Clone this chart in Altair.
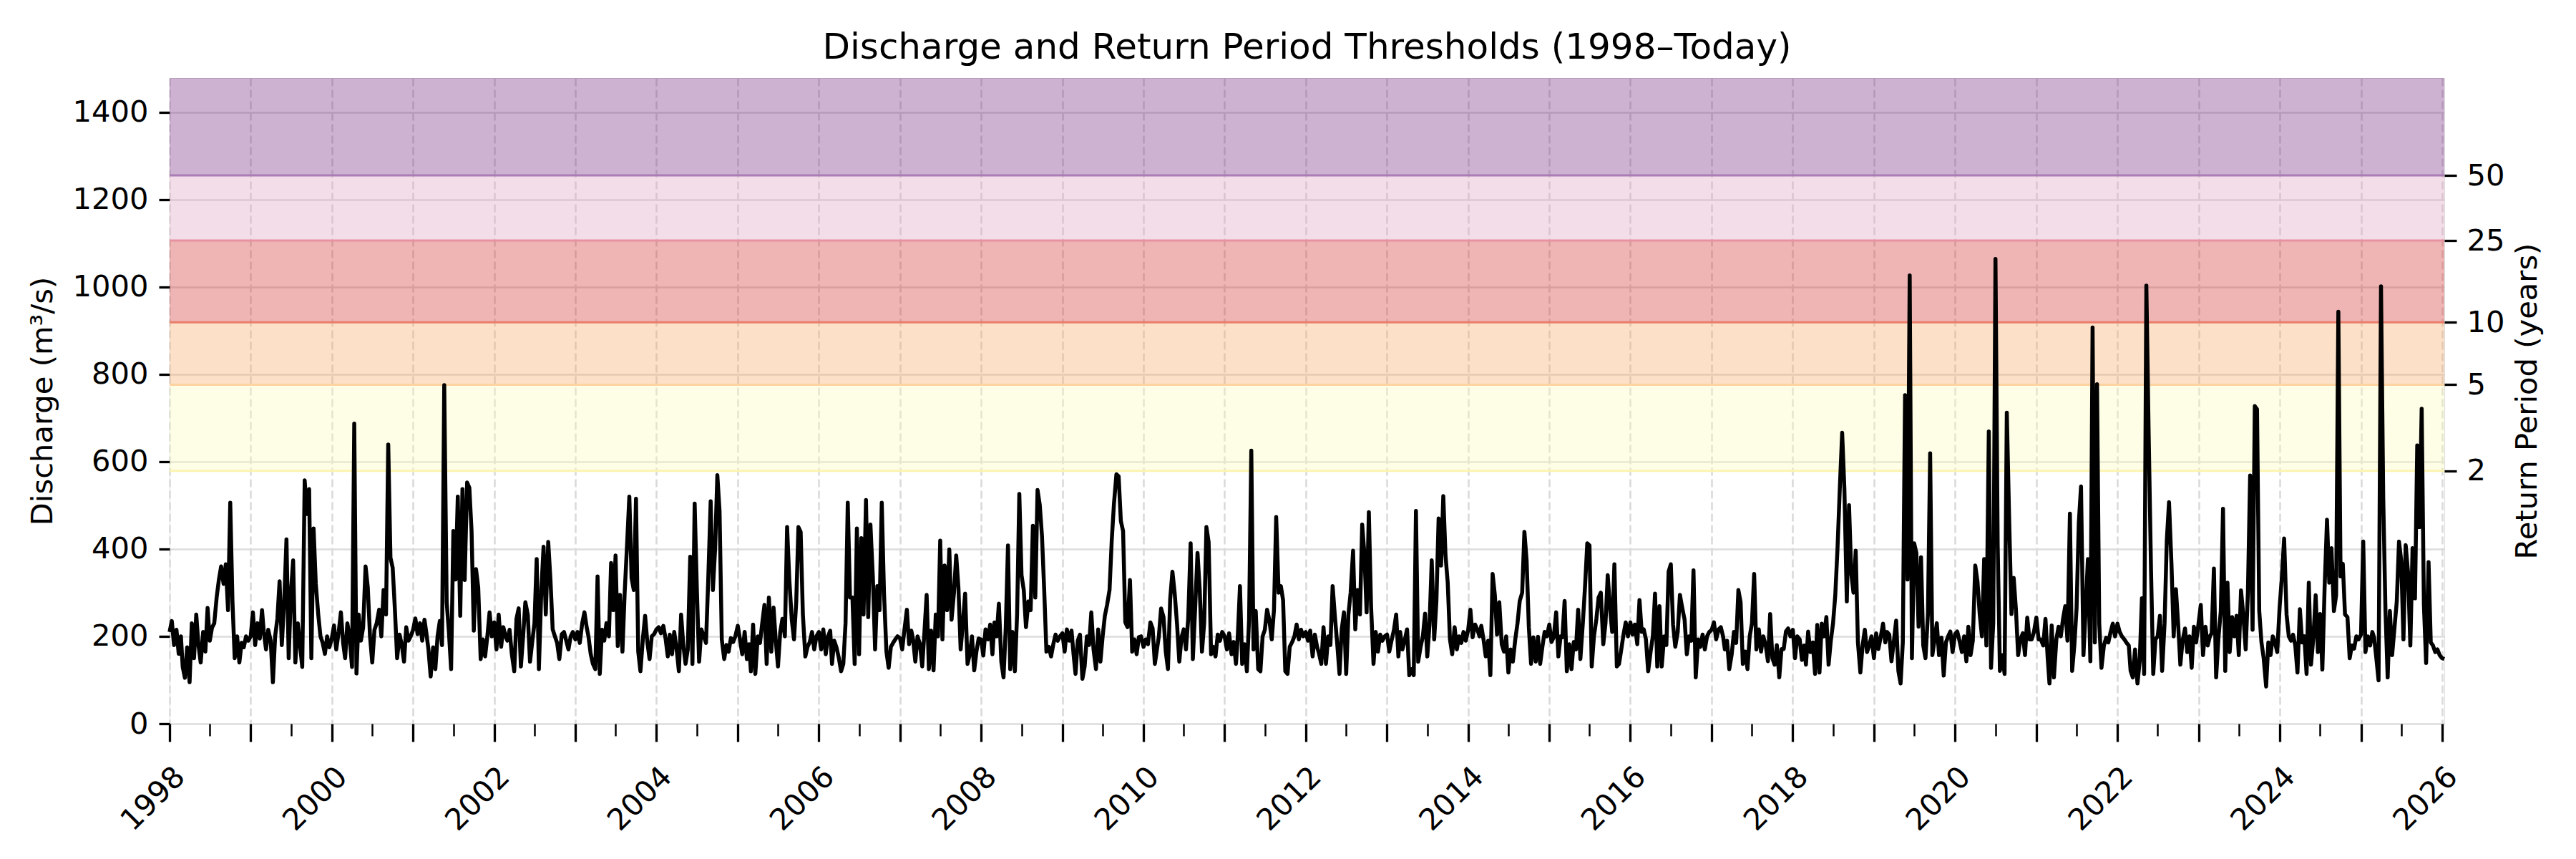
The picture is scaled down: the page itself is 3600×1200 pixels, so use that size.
import altair as alt
import pandas as pd

# return period thresholds (discharge in m3/s) and band styling
rp_years = [2, 5, 10, 25, 50]
rp_discharge = [579, 776, 919, 1106, 1255]
y_top = 1478
band_fill = ["#fcfcb8", "#f6a962", "#d12929", "#dd9ec0", "#70267c"]
edge_color = ["#fbf3b0", "#fdd3a0", "#eb7d69", "#e891a0", "#aa7db4"]

# discharge, one value per dekad (1st, 11th, 21st of each month)
q1998 = [210, 235, 180, 215, 160, 200, 130, 105, 175, 95, 230, 150, 250, 180, 140, 210, 165, 265, 190, 220, 230, 290, 330, 360, 320, 365, 260, 506, 280, 150, 200, 140, 185, 175, 200, 190]
q1999 = [200, 255, 180, 230, 195, 260, 210, 170, 215, 190, 95, 200, 240, 326, 180, 283, 422, 150, 300, 374, 140, 230, 180, 130, 557, 480, 537, 150, 447, 320, 250, 200, 185, 160, 200, 175]
q2000 = [195, 225, 170, 210, 255, 185, 150, 230, 200, 130, 687, 115, 250, 190, 220, 360, 312, 200, 140, 215, 230, 261, 200, 306, 250, 639, 380, 357, 261, 150, 204, 180, 142, 221, 190, 200]
q2001 = [215, 241, 205, 230, 190, 238, 210, 170, 108, 175, 125, 200, 235, 180, 775, 278, 210, 125, 441, 330, 520, 247, 537, 329, 552, 540, 441, 213, 354, 312, 148, 193, 154, 200, 255, 200]
q2002 = [232, 170, 250, 176, 221, 200, 190, 215, 160, 120, 240, 264, 131, 200, 278, 250, 142, 187, 230, 377, 125, 306, 405, 250, 416, 330, 216, 200, 185, 148, 205, 210, 190, 170, 200, 210]
q2003 = [193, 210, 185, 230, 255, 221, 200, 160, 137, 125, 337, 114, 215, 190, 230, 200, 368, 260, 385, 178, 295, 165, 300, 402, 520, 334, 306, 515, 165, 120, 195, 247, 187, 148, 200, 205]
q2004 = [216, 221, 207, 224, 195, 154, 204, 159, 210, 170, 120, 250, 180, 137, 170, 382, 137, 504, 306, 142, 216, 200, 185, 329, 509, 306, 400, 569, 487, 193, 148, 180, 165, 196, 187, 200]
q2005 = [224, 193, 159, 210, 148, 182, 120, 227, 114, 200, 185, 230, 272, 137, 289, 165, 266, 190, 131, 210, 240, 200, 450, 329, 238, 193, 278, 450, 439, 250, 154, 176, 187, 210, 170, 200]
q2006 = [210, 170, 216, 159, 200, 213, 137, 190, 175, 150, 120, 137, 230, 506, 289, 289, 137, 447, 159, 425, 250, 512, 244, 456, 334, 170, 315, 260, 506, 300, 165, 128, 176, 185, 193, 200]
q2007 = [196, 170, 215, 261, 182, 213, 193, 142, 200, 182, 131, 210, 295, 125, 213, 122, 250, 200, 419, 193, 362, 260, 399, 238, 300, 385, 312, 170, 230, 298, 137, 159, 200, 122, 165, 195]
q2008 = [193, 156, 216, 193, 227, 159, 232, 200, 275, 142, 106, 220, 408, 125, 210, 120, 250, 526, 340, 306, 221, 280, 260, 453, 289, 535, 501, 430, 306, 165, 176, 154, 182, 204, 190, 200]
q2009 = [207, 165, 216, 190, 213, 154, 114, 190, 204, 103, 131, 200, 180, 255, 170, 125, 216, 142, 200, 247, 272, 306, 420, 504, 571, 566, 464, 441, 232, 221, 329, 165, 193, 159, 198, 200]
q2010 = [176, 193, 182, 232, 218, 137, 165, 200, 264, 244, 165, 125, 286, 348, 300, 227, 142, 198, 216, 170, 240, 413, 148, 260, 391, 306, 165, 230, 450, 416, 159, 176, 154, 204, 190, 210]
q2011 = [200, 170, 207, 159, 187, 137, 198, 315, 137, 182, 120, 238, 625, 170, 258, 125, 120, 200, 215, 261, 238, 193, 260, 473, 300, 315, 283, 120, 114, 176, 187, 200, 227, 193, 215, 200]
q2012 = [210, 190, 213, 154, 204, 176, 160, 137, 221, 137, 200, 180, 315, 247, 187, 114, 216, 255, 114, 250, 300, 396, 216, 306, 250, 456, 388, 255, 484, 269, 137, 210, 165, 204, 190, 200]
q2013 = [204, 165, 190, 215, 250, 154, 210, 170, 190, 216, 111, 125, 111, 487, 142, 176, 200, 252, 154, 227, 374, 193, 280, 470, 362, 521, 385, 323, 193, 159, 221, 170, 200, 185, 210, 190]
q2014 = [215, 261, 198, 227, 216, 200, 224, 193, 154, 190, 111, 343, 295, 204, 278, 182, 165, 200, 117, 170, 142, 193, 230, 281, 300, 439, 374, 221, 137, 198, 142, 199, 137, 176, 210, 200]
q2015 = [227, 187, 198, 255, 154, 200, 198, 281, 120, 182, 125, 187, 170, 261, 148, 230, 315, 413, 408, 131, 200, 240, 289, 300, 182, 230, 340, 266, 210, 365, 131, 137, 170, 204, 232, 200]
q2016 = [232, 204, 227, 182, 283, 210, 216, 193, 120, 165, 200, 298, 131, 269, 131, 200, 180, 348, 365, 227, 176, 210, 295, 266, 238, 159, 200, 190, 351, 106, 193, 176, 204, 170, 200, 210]
q2017 = [215, 232, 193, 216, 221, 200, 170, 190, 125, 159, 210, 185, 306, 278, 137, 165, 125, 200, 230, 343, 170, 216, 165, 200, 180, 143, 251, 150, 135, 180, 106, 171, 171, 211, 218, 200]
q2018 = [215, 150, 200, 193, 146, 179, 135, 211, 164, 186, 114, 226, 117, 229, 200, 244, 135, 190, 230, 294, 400, 546, 666, 539, 280, 500, 344, 300, 396, 186, 117, 179, 215, 164, 179, 200]
q2019 = [150, 207, 171, 200, 229, 186, 210, 204, 143, 190, 236, 121, 92, 186, 752, 330, 1026, 150, 413, 391, 222, 381, 179, 150, 250, 619, 157, 193, 230, 157, 197, 110, 186, 200, 211, 164]
q2020 = [205, 211, 190, 164, 200, 143, 222, 157, 190, 362, 326, 251, 200, 377, 179, 669, 128, 230, 1064, 409, 121, 157, 114, 712, 460, 251, 334, 262, 157, 193, 207, 157, 243, 193, 193, 210]
q2021 = [243, 193, 193, 179, 240, 150, 92, 225, 106, 193, 222, 200, 240, 269, 190, 481, 121, 180, 265, 460, 543, 157, 265, 377, 143, 907, 186, 777, 229, 128, 179, 197, 186, 210, 229, 200]
q2022 = [229, 210, 200, 193, 185, 179, 121, 106, 170, 92, 143, 287, 114, 1003, 676, 352, 114, 193, 200, 247, 121, 230, 420, 507, 366, 200, 308, 229, 135, 190, 218, 164, 200, 128, 222, 186]
q2023 = [230, 272, 157, 222, 179, 200, 207, 355, 106, 200, 258, 492, 121, 323, 164, 244, 200, 247, 157, 305, 251, 170, 301, 568, 215, 727, 720, 258, 186, 150, 85, 186, 157, 200, 186, 164]
q2024 = [269, 337, 424, 250, 200, 190, 204, 180, 117, 262, 186, 200, 114, 323, 135, 200, 294, 164, 251, 124, 308, 467, 323, 402, 258, 294, 943, 337, 366, 250, 244, 150, 179, 172, 200, 193]
q2025 = [204, 417, 164, 200, 179, 210, 197, 150, 99, 1001, 518, 260, 106, 258, 157, 222, 280, 417, 373, 193, 409, 344, 179, 402, 287, 637, 450, 721, 272, 139, 370, 186, 179, 164, 170, 157]
q2026 = [150, 148]

yearly = [q1998, q1999, q2000, q2001, q2002, q2003, q2004, q2005, q2006, q2007,
          q2008, q2009, q2010, q2011, q2012, q2013, q2014, q2015, q2016, q2017,
          q2018, q2019, q2020, q2021, q2022, q2023, q2024, q2025, q2026]

rows = []
for year, values in zip(range(1998, 2027), yearly):
    dekads = [(m, d) for m in range(1, 13) for d in (1, 11, 21)]
    for (m, d), v in zip(dekads, values):
        rows.append({"date": f"{year}-{m:02d}-{d:02d}", "q": v})
series = pd.DataFrame(rows)

bands = pd.DataFrame({
    "lo": rp_discharge,
    "hi": rp_discharge[1:] + [y_top],
    "fill": band_fill,
})
edges = pd.DataFrame({"q": rp_discharge, "rp": rp_years, "stroke": edge_color})

font = "DejaVu Sans"
fs = 41.67
y_scale = alt.Scale(domain=[0, y_top], nice=False, zero=False)
x_scale = alt.Scale(type="utc", domain=[alt.DateTime(year=1998, month=1, date=1, utc=True),
                                        alt.DateTime(year=2026, month=1, date=11, utc=True)])

is_jan = "utcmonth(datum.value) == 0"
half_years = [alt.DateTime(year=y, month=m, date=1, utc=True)
              for y in range(1998, 2027) for m in (1, 7) if not (y == 2026 and m == 7)]

x_axis = alt.Axis(
    values=half_years, title=None,
    labelExpr=f"{is_jan} && utcyear(datum.value) % 2 == 0 ? utcFormat(datum.value, '%Y') : ''",
    labelAngle=315, labelAlign="right", labelBaseline="top", labelPadding=28,
    labelFontSize=fs, labelFont=font, labelColor="black", labelOverlap=False, labelFlush=False,
    tickSize={"condition": {"test": is_jan, "value": 25}, "value": 17},
    tickWidth={"condition": {"test": is_jan, "value": 3.3}, "value": 2.5},
    tickColor="black",
    grid=True, gridDash=[11, 5], gridColor="#d9d9d9", gridWidth=2.5,
    gridOpacity={"condition": {"test": is_jan, "value": 1}, "value": 0},
    domain=False,
)

left_axis = alt.Axis(
    values=list(range(0, 1401, 200)), format="d", title="Discharge (m³/s)",
    titleFont=font, titleFontSize=fs, titleFontWeight="normal", titleColor="black",
    titleAngle=270, titleX=-178, titleY=451, titleAlign="center", titleBaseline="middle",
    labelFont=font, labelFontSize=fs, labelColor="black", labelPadding=15,
    tickSize=15, tickWidth=3.3, tickColor="black",
    grid=True, gridColor="#dcdcdc", gridWidth=2.5, domain=False,
)

rp_expr = " : ".join(f"datum.value == {q} ? '{rp}'" for q, rp in zip(rp_discharge, rp_years)) + " : ''"
right_axis = alt.Axis(
    orient="right", values=rp_discharge, labelExpr=rp_expr, title="Return Period (years)",
    titleFont=font, titleFontSize=fs, titleFontWeight="normal", titleColor="black",
    titleAngle=270, titleX=115, titleY=451, titleAlign="center", titleBaseline="middle",
    labelFont=font, labelFontSize=fs, labelColor="black", labelPadding=14,
    tickSize=17, tickWidth=3.3, tickColor="black", grid=False, domain=False,
)

band_layer = alt.Chart(bands).mark_rect(opacity=0.35).encode(
    y=alt.Y("lo:Q", scale=y_scale, axis=None),
    y2="hi:Q",
    color=alt.Color("fill:N", scale=None),
)

edge_layer = alt.Chart(edges).mark_rule(strokeWidth=3).encode(
    y=alt.Y("q:Q", scale=y_scale, axis=right_axis),
    color=alt.Color("stroke:N", scale=None),
)

line_layer = alt.Chart(series).mark_line(color="black", strokeWidth=5.5, strokeJoin="round").encode(
    x=alt.X("date:T", scale=x_scale, axis=x_axis),
    y=alt.Y("q:Q", scale=y_scale, axis=left_axis),
)

chart = alt.layer(band_layer, edge_layer, line_layer).resolve_axis(
    y="independent"
).properties(
    width=3179,
    height=902,
    title=alt.Title("Discharge and Return Period Thresholds (1998–Today)", font=font, fontSize=50,
                    fontWeight="normal", color="black", anchor="middle", baseline="alphabetic",
                    offset=-23, frame="group"),
    autosize=alt.AutoSizeParams(type="none"),
    padding={"left": 229, "top": 101, "right": 170, "bottom": 160},
).configure_view(
    stroke="black", strokeWidth=3.3
).configure(
    font=font, background="white"
)

chart.save("out.html", embed_options={"renderer": "svg", "actions": False})
